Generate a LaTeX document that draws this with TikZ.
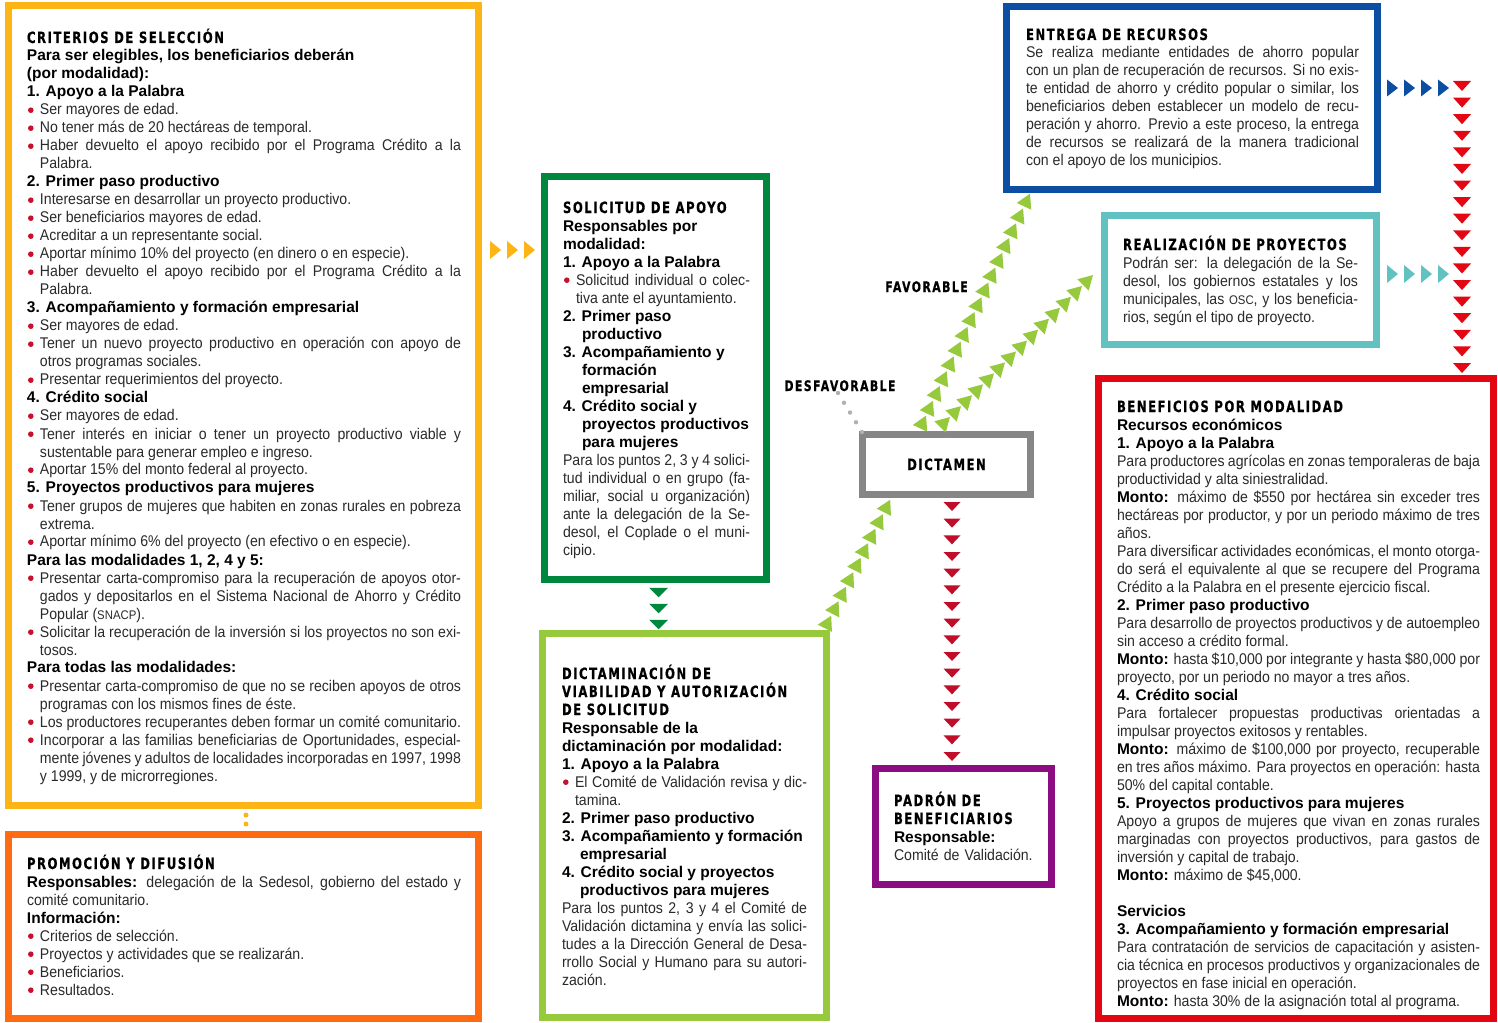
\documentclass[tikz,border=0pt]{standalone}
\usepackage{fontspec}
\setmainfont{Liberation Sans}[UprightFeatures={FakeStretch=0.91}]
\newfontfamily\hfont{DejaVu Sans}[FakeStretch=0.75, LetterSpace=10, FakeBold=0.6]
\usetikzlibrary{calc,fit}
\definecolor{camber}{HTML}{FDB515}
\definecolor{corange}{HTML}{FF6B13}
\definecolor{cdgreen}{HTML}{00873E}
\definecolor{clgreen}{HTML}{97C93D}
\definecolor{cgray}{HTML}{868686}
\definecolor{cdots}{HTML}{B0B0B0}
\definecolor{ccrimson}{HTML}{BF0D2A}
\definecolor{cpurple}{HTML}{8C0C82}
\definecolor{cblue}{HTML}{0C4EA2}
\definecolor{cteal}{HTML}{62C2C1}
\definecolor{cred}{HTML}{E30613}
\definecolor{cbul}{HTML}{C4122F}
\definecolor{ctext}{HTML}{2A2A2A}
\tolerance=10000 \hbadness=10000 \hyphenpenalty=10000 \exhyphenpenalty=10000 \lineskiplimit=-100pt
\newcommand\hh[1]{{\hfont\bfseries\color{black}#1}}
\newcommand\B[1]{{\bfseries\color{black}#1}}
\newcommand\hd[1]{\par\noindent\B{#1}}
\newcommand\nh[2]{\par\hangindent=#1\hangafter=1\noindent\B{#2}}
\newcommand\bul{\par\hangindent=13pt\hangafter=1\noindent\makebox[13pt][l]{\hspace{1pt}\tikz[baseline=0pt]\fill[cbul] (2.8pt,4.8pt) circle[radius=2.8pt];}}
\newcommand\sm[1]{{\fontsize{12.5}{18}\selectfont #1}}
\newcommand\firstline{\noindent\rule{0pt}{16pt}}
\newcommand\trichain[7]{%
  \path let \p1=(#3), \p2=(#4) in \pgfextra{\pgfmathsetmacro\tmpang{atan2(\y2-\y1,\x2-\x1)+#7}\global\let\chainang\tmpang};
  \foreach \k in {1,...,#2}{%
    \pgfmathsetmacro\ff{(\k-1)/(#2-1)}%
    \fill[#1, shift={($(#3)!\ff!(#4)$)}, rotate=\chainang] (#5pt,0pt) -- (-#5pt,#6pt) -- (-#5pt,-#6pt) -- cycle;
  }%
}
\newcommand\dotchain[5]{%
  \foreach \k in {1,...,#2}{%
    \pgfmathsetmacro\ff{(\k-1)/(#2-1)}%
    \fill[#1] ($(#3)!\ff!(#4)$) circle[radius=#5pt];
  }%
}
\tikzset{
  frame/.style={draw=#1, line width=7pt, inner sep=0pt, outer sep=0pt, fill=white},
  txt/.style={anchor=north west, inner sep=0pt, outer sep=0pt, align=justify, text width=#1,
    text=ctext, font={\fontsize{15.5}{18}\selectfont\lineskiplimit=-100pt}},
  lbl/.style={inner sep=0pt, anchor=base, text=black, font={\fontsize{14.5}{18}\selectfont\hfont\bfseries}}
}
\begin{document}
\begin{tikzpicture}[x=1pt,y=-1pt]
\useasboundingbox (0,0) rectangle (1498,1022);
% frames
\node[frame=camber, fit={(8.5,5.5) (478.5,805.5)}] (crit) {};
\node[frame=corange, fit={(8.5,834.5) (478.5,1018.5)}] (promo) {};
\node[frame=cdgreen, fit={(544.5,176.5) (766.5,579.5)}] (soli) {};
\node[frame=clgreen, fit={(542.5,633.5) (826.5,1017.5)}] (dictm) {};
\node[frame=cgray, fit={(862.5,434.5) (1030.5,494.5)}] (dict) {};
\node[frame=cpurple, fit={(875.5,768.5) (1051.5,884.5)}] (padron) {};
\node[frame=cblue, fit={(1006.5,6.5) (1377.5,189.5)}] (entrega) {};
\node[frame=cteal, fit={(1104.5,215.5) (1376.5,344.5)}] (real) {};
\node[frame=cred, fit={(1098.5,378.5) (1493.5,1018.5)}] (benef) {};

% texts
\node[txt=434] (critT) at (27,27) {\firstline\hh{CRITERIOS DE SELECCIÓN}\par
\noindent\B{Para ser elegibles, los beneficiarios deberán\newline(por modalidad):}
\hd{1. Apoyo a la Palabra}
\bul Ser mayores de edad.
\bul No tener más de 20 hectáreas de temporal.
\bul Haber devuelto el apoyo recibido por el Programa Crédito a la\linebreak Palabra.
\hd{2. Primer paso productivo}
\bul Interesarse en desarrollar un proyecto productivo.
\bul Ser beneficiarios mayores de edad.
\bul Acreditar a un representante social.
\bul Aportar mínimo 10\% del proyecto (en dinero o en especie).
\bul Haber devuelto el apoyo recibido por el Programa Crédito a la\linebreak Palabra.
\hd{3. Acompañamiento y formación empresarial}
\bul Ser mayores de edad.
\bul Tener un nuevo proyecto productivo en operación con apoyo de\linebreak otros programas sociales.
\bul Presentar requerimientos del proyecto.
\hd{4. Crédito social}
\bul Ser mayores de edad.
\bul Tener interés en iniciar o tener un proyecto productivo viable y\linebreak sustentable para generar empleo e ingreso.
\bul Aportar 15\% del monto federal al proyecto.
\hd{5. Proyectos productivos para mujeres}
\bul Tener grupos de mujeres que habiten en zonas rurales en pobreza\linebreak extrema.
\bul Aportar mínimo 6\% del proyecto (en efectivo o en especie).
\hd{Para las modalidades 1, 2, 4 y 5:}
\bul Presentar carta-compromiso para la recuperación de apoyos otor-\linebreak gados y depositarlos en el Sistema Nacional de Ahorro y Crédito\linebreak Popular (\sm{SNACP}).
\bul Solicitar la recuperación de la inversión si los proyectos no son exi-\linebreak tosos.
\hd{Para todas las modalidades:}
\bul Presentar carta-compromiso de que no se reciben apoyos de otros\linebreak programas con los mismos fines de éste.
\bul Los productores recuperantes deben formar un comité comunitario.
\bul Incorporar a las familias beneficiarias de Oportunidades, especial-\linebreak mente jóvenes y adultos de localidades incorporadas en 1997, 1998\linebreak y 1999, y de microrregiones.\par};

\node[txt=434] (promoT) at (27,853) {\firstline\hh{PROMOCIÓN Y DIFUSIÓN}\par
\noindent\B{Responsables:} delegación de la Sedesol, gobierno del estado y\linebreak comité comunitario.
\hd{Información:}
\bul Criterios de selección.
\bul Proyectos y actividades que se realizarán.
\bul Beneficiarios.
\bul Resultados.\par};

\node[txt=187] (soliT) at (563,197) {\firstline\hh{SOLICITUD DE APOYO}\par
\noindent\B{Responsables por\newline modalidad:}
\hd{1. Apoyo a la Palabra}
\bul Solicitud individual o colec-\linebreak tiva ante el ayuntamiento.
\nh{19pt}{2. Primer paso\newline productivo}
\nh{19pt}{3. Acompañamiento y\newline formación\newline empresarial}
\nh{19pt}{4. Crédito social y\newline proyectos productivos\newline para mujeres}
\par\noindent Para los puntos 2, 3 y 4 solici-\linebreak tud individual o en grupo (fa-\linebreak miliar, social u organización)\linebreak ante la delegación de la Se-\linebreak desol, el Coplade o el muni-\linebreak cipio.\par};

\node[txt=245] (dictmT) at (562,663) {\firstline\hh{DICTAMINACIÓN DE\newline VIABILIDAD Y AUTORIZACIÓN\newline DE SOLICITUD}\par
\noindent\B{Responsable de la\newline dictaminación por modalidad:}
\hd{1. Apoyo a la Palabra}
\bul El Comité de Validación revisa y dic-\linebreak tamina.
\hd{2. Primer paso productivo}
\nh{18pt}{3. Acompañamiento y formación\newline empresarial}
\nh{18pt}{4. Crédito social y proyectos\newline productivos para mujeres}
\par\noindent Para los puntos 2, 3 y 4 el Comité de\linebreak Validación dictamina y envía las solici-\linebreak tudes a la Dirección General de Desa-\linebreak rrollo Social y Humano para su autori-\linebreak zación.\par};

\node[lbl, font={\fontsize{15.5}{18}\selectfont\hfont\bfseries}] (dictT) at (946.5,470) {DICTAMEN};

\node[txt=160, align=left] (padronT) at (894,790) {\firstline\hh{PADRÓN DE\newline BENEFICIARIOS}\par
\noindent\B{Responsable:}\par
\noindent Comité de Validación.\par};

\node[txt=333] (entregaT) at (1026,24) {\firstline\hh{ENTREGA DE RECURSOS}\par
\noindent Se realiza mediante entidades de ahorro popular\linebreak con un plan de recuperación de recursos. Si no exis-\linebreak te entidad de ahorro y crédito popular o similar, los\linebreak beneficiarios deben establecer un modelo de recu-\linebreak peración y ahorro. Previo a este proceso, la entrega\linebreak de recursos se realizará de la manera tradicional\linebreak con el apoyo de los municipios.\par};

\node[txt=235] (realT) at (1123,234) {\firstline\hh{REALIZACIÓN DE PROYECTOS}\par
\noindent Podrán ser: la delegación de la Se-\linebreak desol, los gobiernos estatales y los\linebreak municipales, las \sm{OSC}, y los beneficia-\linebreak rios, según el tipo de proyecto.\par};

\node[txt=363] (benefT) at (1117,396) {\firstline\hh{BENEFICIOS POR MODALIDAD}
\hd{Recursos económicos}
\hd{1. Apoyo a la Palabra}
\par\noindent Para productores agrícolas en zonas temporaleras de baja\linebreak productividad y alta siniestralidad.
\par\noindent\B{Monto:} máximo de \$550 por hectárea sin exceder tres\linebreak hectáreas por productor, y por un periodo máximo de tres\linebreak años.
\par\noindent Para diversificar actividades económicas, el monto otorga-\linebreak do será el equivalente al que se recupere del Programa\linebreak Crédito a la Palabra en el presente ejercicio fiscal.
\hd{2. Primer paso productivo}
\par\noindent Para desarrollo de proyectos productivos y de autoempleo\linebreak sin acceso a crédito formal.
\par\noindent\B{Monto:} hasta \$10,000 por integrante y hasta \$80,000 por\linebreak proyecto, por un periodo no mayor a tres años.
\hd{4. Crédito social}
\par\noindent Para fortalecer propuestas productivas orientadas a\linebreak impulsar proyectos exitosos y rentables.
\par\noindent\B{Monto:} máximo de \$100,000 por proyecto, recuperable\linebreak en tres años máximo. Para proyectos en operación: hasta\linebreak 50\% del capital contable.
\hd{5. Proyectos productivos para mujeres}
\par\noindent Apoyo a grupos de mujeres que vivan en zonas rurales\linebreak marginadas con proyectos productivos, para gastos de\linebreak inversión y capital de trabajo.
\par\noindent\B{Monto:} máximo de \$45,000.
\par\noindent\mbox{}
\hd{Servicios}
\hd{3. Acompañamiento y formación empresarial}
\par\noindent Para contratación de servicios de capacitación y asisten-\linebreak cia técnica en procesos productivos y organizacionales de\linebreak proyectos en fase inicial en operación.
\par\noindent\B{Monto:} hasta 30\% de la asignación total al programa.\par};

\node[lbl] (fav) at (926.5,292) {FAVORABLE};
\node[lbl] (desfav) at (840,391) {DESFAVORABLE};

% connectors
\coordinate (yA) at (495.5,250); \coordinate (yB) at (529.5,250);
\trichain{camber}{3}{yA}{yB}{5.5}{9}{0}
\coordinate (gA) at (658.5,592.5); \coordinate (gB) at (658.5,624.5);
\trichain{cdgreen}{3}{gA}{gB}{4.75}{9.5}{0}
\coordinate (rA) at (952,506.5); \coordinate (rB) at (952,756.5);
\trichain{ccrimson}{16}{rA}{rB}{4.5}{8.5}{0}
\coordinate (bA) at (1392.5,88); \coordinate (bB) at (1443.5,88);
\trichain{cblue}{4}{bA}{bB}{5.5}{8.5}{0}
\coordinate (tA) at (1392.5,274); \coordinate (tB) at (1443.5,274);
\trichain{cteal}{4}{tA}{tB}{5.5}{9}{0}
\coordinate (qA) at (1462,86); \coordinate (qB) at (1462,368);
\trichain{cred}{18}{qA}{qB}{5}{9}{0}
\coordinate (fA) at (923,422); \coordinate (fB) at (1027,200);
\trichain{clgreen}{16}{fA}{fB}{7}{8}{0}
\coordinate (hA) at (945,422); \coordinate (hB) at (1088,280);
\trichain{clgreen}{14}{hA}{hB}{7}{8}{0}
\coordinate (cA) at (828,622); \coordinate (cB) at (887,506);
\trichain{clgreen}{9}{cA}{cB}{7}{8}{0}
\coordinate (dA) at (838,393); \coordinate (dB) at (862,432);
\dotchain{cdots}{5}{dA}{dB}{2.2}
\coordinate (oA) at (246,815); \coordinate (oB) at (246,824);
\dotchain{camber}{2}{oA}{oB}{2.5}
\end{tikzpicture}
\end{document}
